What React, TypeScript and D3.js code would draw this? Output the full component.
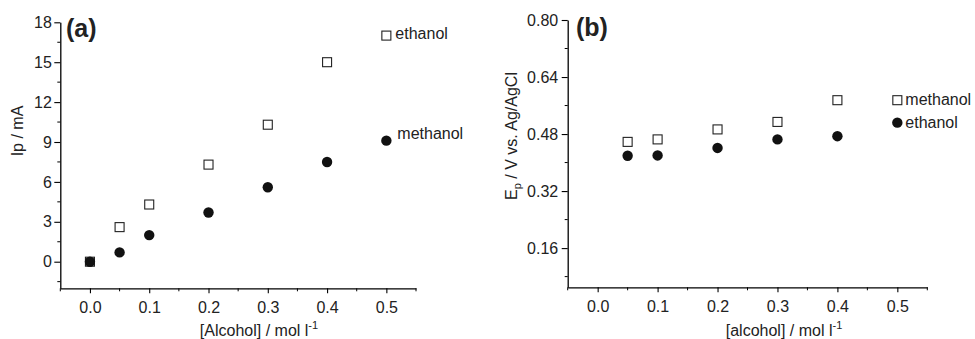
import React, { useRef, useEffect } from "react";
import * as d3 from "d3";

// panel (a): peak current vs alcohol concentration
const concA = [0, 0.05, 0.1, 0.2, 0.3, 0.4, 0.5];
const ethanolIp = [0, 2.6, 4.3, 7.3, 10.3, 15.0, 17.0];
const methanolIp = [0, 0.7, 2.0, 3.7, 5.6, 7.5, 9.1];
const yTicksA = [0, 3, 6, 9, 12, 15, 18];
const yMinorA = [-1.5, 1.5, 4.5, 7.5, 10.5, 13.5, 16.5];

// panel (b): peak potential vs alcohol concentration
const concB = [0.05, 0.1, 0.2, 0.3, 0.4];
const methanolEp = [0.458, 0.465, 0.493, 0.514, 0.575];
const ethanolEp = [0.419, 0.42, 0.441, 0.465, 0.474];
const yTicksB = [0.16, 0.32, 0.48, 0.64, 0.8];
const yMinorB = [0.08, 0.24, 0.4, 0.56, 0.72];
const legendB = [
  { name: "methanol", shape: "square", x: 0.5, y: 0.575 },
  { name: "ethanol", shape: "circle", x: 0.5, y: 0.512 },
];

const xTicks = [0, 0.1, 0.2, 0.3, 0.4, 0.5];
const xMinor = [-0.05, 0.05, 0.15, 0.25, 0.35, 0.45, 0.55];

const FONT = "'Liberation Sans', Arial, sans-serif";
const FS = 16;

function drawMarker(g: any, shape: string, cx: number, cy: number) {
  if (shape === "square") {
    g.append("rect")
      .attr("x", cx - 4.5)
      .attr("y", cy - 4.5)
      .attr("width", 9)
      .attr("height", 9)
      .attr("fill", "white")
      .attr("stroke", "#222")
      .attr("stroke-width", 1.1);
  } else {
    g.append("circle")
      .attr("cx", cx)
      .attr("cy", cy)
      .attr("r", 5.2)
      .attr("fill", "#111");
  }
}

function drawAxes(svg: any, x: any, y: any, yTicks: number[], yMinor: number[], fmtY: any, pad: number) {
  const [y0] = y.range();
  const [x0] = x.range();

  const xa = svg.append("g")
    .attr("transform", `translate(0,${y0})`)
    .call(d3.axisBottom(x).tickValues(xTicks).tickSize(5).tickPadding(8).tickFormat(d3.format(".1f")).tickSizeOuter(0))
    .attr("font-family", FONT)
    .attr("font-size", FS);
  xa.append("g").selectAll("line").data(xMinor).join("line")
    .attr("x1", (d: number) => x(d)).attr("x2", (d: number) => x(d))
    .attr("y1", 0).attr("y2", 3)
    .attr("stroke", "currentColor");

  const ya = svg.append("g")
    .attr("transform", `translate(${x0},0)`)
    .call(d3.axisLeft(y).tickValues(yTicks).tickSize(6).tickPadding(pad).tickFormat(fmtY).tickSizeOuter(0))
    .attr("font-family", FONT)
    .attr("font-size", FS);
  ya.append("g").selectAll("line").data(yMinor).join("line")
    .attr("y1", (d: number) => y(d)).attr("y2", (d: number) => y(d))
    .attr("x1", 0).attr("x2", -3)
    .attr("stroke", "currentColor");

  svg.selectAll(".domain").attr("stroke-width", 1.3);
  svg.selectAll(".tick line").attr("stroke-width", 1.1);
  svg.selectAll(".tick text").attr("fill", "#222");
}

const App: React.FC = () => {
  const svgRef = useRef<SVGSVGElement | null>(null);

  useEffect(() => {
    if (!svgRef.current) return;
    const svg = d3.select(svgRef.current);
    svg.selectAll("*").remove();

    // ---------- panel (a) ----------
    const xA = d3.scaleLinear().domain([-0.05, 0.55]).range([60.3, 416]);
    const yA = d3.scaleLinear().domain([-2, 18]).range([288.3, 22.3]);
    const gA = svg.append("g");
    drawAxes(gA, xA, yA, yTicksA, yMinorA, d3.format("d"), 2.5);

    const ptsA = gA.append("g");
    concA.forEach((c, i) => drawMarker(ptsA, "square", xA(c), yA(ethanolIp[i])));
    concA.forEach((c, i) => drawMarker(ptsA, "circle", xA(c), yA(methanolIp[i])));

    const last = concA.length - 1;
    gA.append("text")
      .attr("x", xA(concA[last]) + 9)
      .attr("y", yA(ethanolIp[last]) + 3)
      .attr("font-family", FONT).attr("font-size", FS).attr("fill", "#222")
      .text("ethanol");
    gA.append("text")
      .attr("x", xA(concA[last]) + 11)
      .attr("y", yA(methanolIp[last]) - 2)
      .attr("font-family", FONT).attr("font-size", FS).attr("fill", "#222")
      .text("methanol");

    gA.append("text")
      .attr("x", 66).attr("y", 37)
      .attr("font-family", FONT).attr("font-size", 25).attr("font-weight", "bold").attr("fill", "#222")
      .text("(a)");

    gA.append("text")
      .attr("transform", "translate(23,131) rotate(-90)")
      .attr("text-anchor", "middle")
      .attr("font-family", FONT).attr("font-size", FS).attr("fill", "#222")
      .text("Ip / mA");

    const tA = gA.append("text")
      .attr("x", 259).attr("y", 336)
      .attr("text-anchor", "middle")
      .attr("font-family", FONT).attr("font-size", FS).attr("fill", "#222");
    tA.append("tspan").text("[Alcohol] / mol l");
    tA.append("tspan").attr("dy", -7).attr("font-size", 11).text("-1");

    // ---------- panel (b) ----------
    const xB = d3.scaleLinear().domain([-0.05, 0.55]).range([567.7, 927.3]);
    const yB = d3.scaleLinear().domain([0.05, 0.8]).range([287.3, 20]);
    const gB = svg.append("g");
    drawAxes(gB, xB, yB, yTicksB, yMinorB, d3.format(".2f"), 3.5);

    const ptsB = gB.append("g");
    concB.forEach((c, i) => drawMarker(ptsB, "square", xB(c), yB(methanolEp[i])));
    concB.forEach((c, i) => drawMarker(ptsB, "circle", xB(c), yB(ethanolEp[i])));

    legendB.forEach(l => {
      drawMarker(gB, l.shape, xB(l.x), yB(l.y));
      gB.append("text")
        .attr("x", xB(l.x) + 8)
        .attr("y", yB(l.y) + 5)
        .attr("font-family", FONT).attr("font-size", FS).attr("fill", "#222")
        .text(l.name);
    });

    gB.append("text")
      .attr("x", 576).attr("y", 36)
      .attr("font-family", FONT).attr("font-size", 25).attr("font-weight", "bold").attr("fill", "#222")
      .text("(b)");

    const lb = gB.append("text")
      .attr("transform", "translate(517,136) rotate(-90)")
      .attr("text-anchor", "middle")
      .attr("font-family", FONT).attr("font-size", FS).attr("fill", "#222");
    lb.append("tspan").text("E");
    lb.append("tspan").attr("dy", 4).attr("font-size", 11).text("p");
    lb.append("tspan").attr("dy", -4).text(" / V vs. Ag/AgCl");

    const tB = gB.append("text")
      .attr("x", 784).attr("y", 336)
      .attr("text-anchor", "middle")
      .attr("font-family", FONT).attr("font-size", FS).attr("fill", "#222");
    tB.append("tspan").text("[alcohol] / mol l");
    tB.append("tspan").attr("dy", -7).attr("font-size", 11).text("-1");
  }, []);

  return (
    <svg
      ref={svgRef}
      width={975}
      height={339}
      viewBox="0 0 975 339"
      style={{ position: "absolute", left: 0, top: 0, background: "white" }}
    />
  );
};

export default App;
